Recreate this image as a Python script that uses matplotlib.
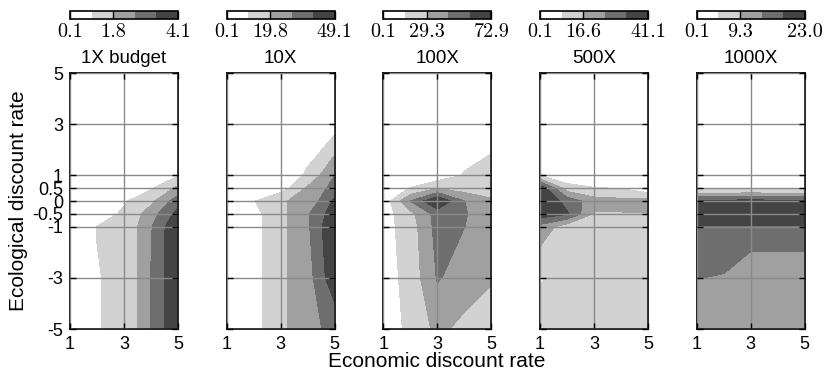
import matplotlib
matplotlib.use('Agg')
import matplotlib.pyplot as plt
import numpy as np

# grid of discount rates (columns = economic, rows = ecological, bottom to top)
econ_rates = [1, 2, 3, 4, 5]
eco_rates = [-5, -3, -1, -0.5, 0, 0.5, 1, 3, 5]
eco_tick_labels = ['-5', '-3', '-1', '-0.5', '0', '0.5', '1', '3', '5']
econ_ticks = [1, 3, 5]

budgets = ['1X budget', '10X', '100X', '500X', '1000X']
cbar_low = [0.1, 0.1, 0.1, 0.1, 0.1]
cbar_mid = [1.8, 19.8, 29.3, 16.6, 9.3]
cbar_high = [4.1, 49.1, 72.9, 41.1, 23.0]
cbar_labels = [['0.1', '1.8', '4.1'], ['0.1', '19.8', '49.1'], ['0.1', '29.3', '72.9'],
               ['0.1', '16.6', '41.1'], ['0.1', '9.3', '23.0']]

value_1x = [
    [0.1, 0.93, 1.05, 2.6, 4.1],
    [0.1, 0.93, 1.05, 2.6, 4.1],
    [0.1, 0.96, 1.1, 2.5, 4.1],
    [0.1, 0.5, 1.1, 2.2, 3.6],
    [0.1, 0.3, 0.85, 1.6, 3.0],
    [0.1, 0.2, 0.5, 0.85, 2.0],
    [0.1, 0.1, 0.2, 0.4, 0.9],
    [0.1, 0.1, 0.1, 0.1, 0.1],
    [0.1, 0.1, 0.1, 0.1, 0.1],
]
value_10x = [
    [0.1, 6.6, 17.1, 28.0, 31.0],
    [0.1, 6.2, 18.0, 25.2, 46.9],
    [0.1, 6.6, 17.1, 28.0, 49.1],
    [0.1, 6.8, 17.1, 28.5, 45.0],
    [0.1, 9.5, 19.1, 21.8, 41.3],
    [0.1, 1.0, 5.0, 21.4, 33.1],
    [0.1, 0.1, 1.0, 12.0, 29.5],
    [0.1, 0.1, 0.1, 0.1, 5.0],
    [0.1, 0.1, 0.1, 0.1, 0.1],
]
value_100x = [
    [7, 18, 33, 25, 20],
    [8, 20, 45, 38, 31],
    [9, 22, 49, 44, 36],
    [8, 25, 50, 45, 35],
    [5, 44, 72.9, 44, 32],
    [3, 15.5, 29, 22, 20],
    [0.1, 0.1, 5, 16, 22],
    [0.1, 0.1, 0.1, 0.1, 5],
    [0.1, 0.1, 0.1, 0.1, 0.1],
]
value_500x = [
    [10, 10, 10, 10, 10],
    [8, 10, 10, 10, 10],
    [22, 12, 11, 10, 10],
    [38, 34, 16, 16.2, 16.4],
    [41.1, 30, 20, 19, 20],
    [40, 12, 9, 8, 2],
    [8.3, 2, 0.1, 0.1, 0.1],
    [0.1, 0.1, 0.1, 0.1, 0.1],
    [0.1, 0.1, 0.1, 0.1, 0.1],
]
value_1000x = [
    [9.0, 12, 12, 12, 12],
    [14.0, 13.5, 9.5, 9.5, 9.5],
    [18, 18, 18, 18, 18],
    [22, 22.5, 23, 22.5, 22],
    [19.5, 19.5, 20, 19.5, 19.5],
    [3, 3, 3, 3, 3],
    [0.1, 0.1, 0.1, 0.1, 0.1],
    [0.1, 0.1, 0.1, 0.1, 0.1],
    [0.1, 0.1, 0.1, 0.1, 0.1],
]
panel_values = [value_1x, value_10x, value_100x, value_500x, value_1000x]

shades = ['#ffffff', '#d2d2d2', '#a0a0a0', '#6e6e6e', '#444444']


def make_levels(lo, mid, hi):
    # two bands below the middle label, three above it
    return [lo, (lo + mid) / 2, mid, mid + (hi - mid) / 3, mid + 2 * (hi - mid) / 3, hi]


def main():
    plt.rcParams['font.family'] = 'Liberation Sans'
    W, H = 824, 376
    fig = plt.figure(figsize=(W / 100, H / 100), dpi=100)

    ax_w, top, bottom = 108, 73, 329
    step = 156.7
    x = np.array(econ_rates)
    y = np.array(eco_rates)

    for i in range(5):
        left = 70 + i * step
        ax = fig.add_axes([left / W, 1 - bottom / H, ax_w / W, (bottom - top) / H])
        levels = make_levels(cbar_low[i], cbar_mid[i], cbar_high[i])
        cf = ax.contourf(x, y, np.array(panel_values[i]), levels=levels, colors=shades)

        ax.set_xlim(1, 5)
        ax.set_ylim(-5, 5)
        ax.set_xticks(econ_ticks)
        ax.set_yticks(eco_rates)
        if i == 0:
            ax.set_yticklabels(eco_tick_labels)
        else:
            ax.set_yticklabels([])
        ax.set_axisbelow(False)
        ax.grid(True, color='#8a8a8a', linewidth=1.0)
        ax.tick_params(direction='in', length=4, width=1, top=True, right=True,
                       labelsize=13, pad=5)
        for s in ax.spines.values():
            s.set_linewidth(1.2)
        ax.set_title(budgets[i], fontsize=13.5, pad=7)

        # colour key above each panel
        cax = fig.add_axes([left / W, 1 - 19 / H, ax_w / W, 8 / H])
        cb = fig.colorbar(cf, cax=cax, orientation='horizontal',
                          ticks=[levels[0], levels[2], levels[5]])
        cb.set_ticklabels(cbar_labels[i], fontfamily='cmr10', fontsize=14.5)
        cb.outline.set_linewidth(1.2)
        cax.tick_params(direction='in', length=5.8, width=1, pad=3)

    fig.text(19 / W, 1 - 201 / H, 'Ecological discount rate', rotation=90,
             fontsize=15, ha='center', va='center')
    fig.text(437 / W, 1 - 367 / H, 'Economic discount rate',
             fontsize=15, ha='center', va='baseline')

    fig.savefig('out.png', dpi=100)


if __name__ == '__main__':
    main()
